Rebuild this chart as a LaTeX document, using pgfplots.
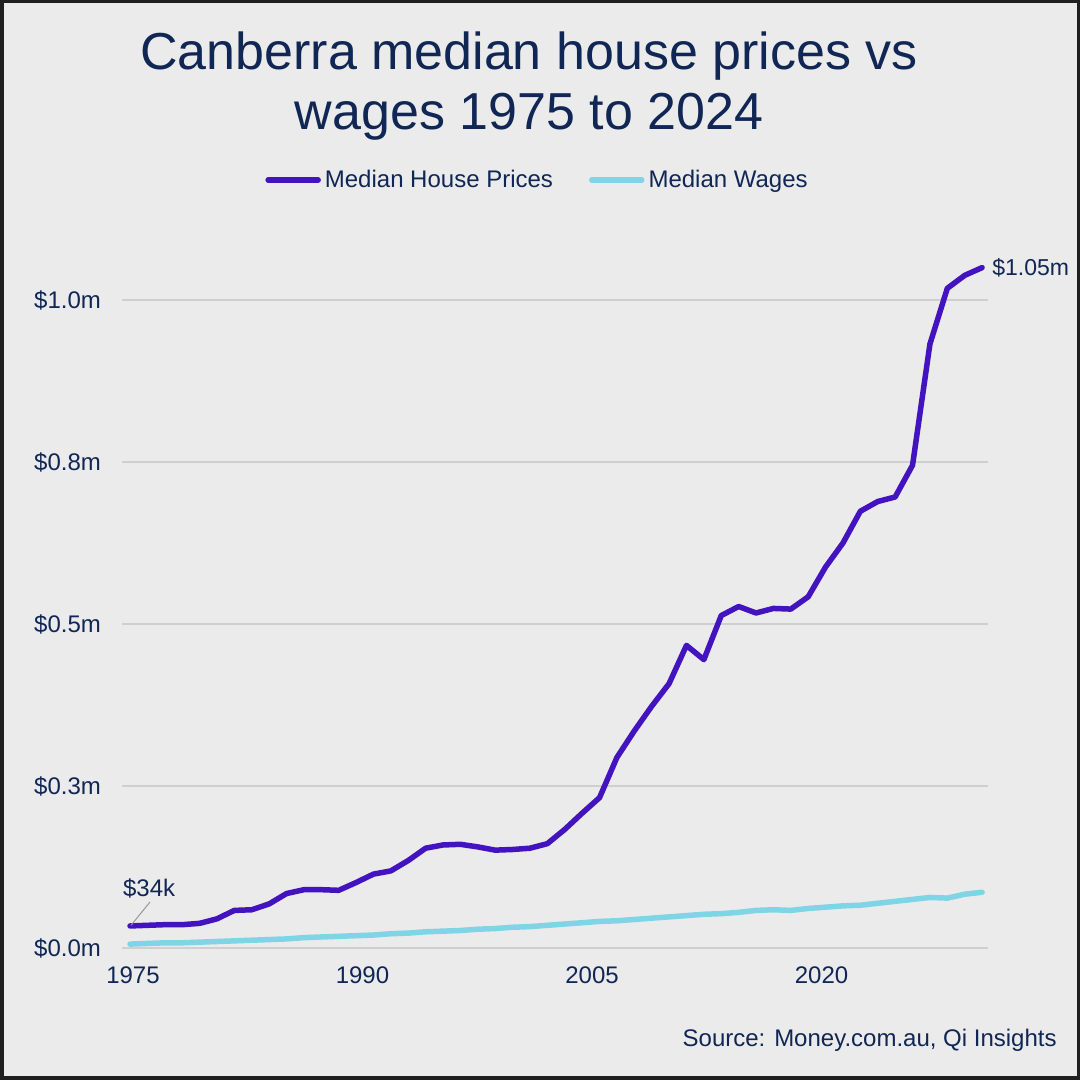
\documentclass[border=0pt]{standalone}
\usepackage{fontspec}
\setmainfont{Liberation Sans}
\usepackage{pgfplots}
\usepackage{pgfplotstable}
\pgfplotsset{compat=1.18}
\definecolor{bg}{HTML}{EBEBEB}
\definecolor{navy}{HTML}{102654}
\definecolor{purp}{HTML}{4213BE}
\definecolor{cyanl}{HTML}{7FD4E6}
\definecolor{gridc}{HTML}{CFCFCF}

\pgfplotstableread{
i price wage
0 0.034 0.006
1 0.035 0.007
2 0.036 0.008
3 0.036 0.008
4 0.038 0.009
5 0.045 0.010
6 0.058 0.011
7 0.059 0.012
8 0.068 0.013
9 0.084 0.014
10 0.090 0.016
11 0.090 0.017
12 0.089 0.018
13 0.101 0.019
14 0.114 0.020
15 0.119 0.022
16 0.135 0.023
17 0.154 0.025
18 0.159 0.026
19 0.160 0.027
20 0.156 0.029
21 0.151 0.030
22 0.152 0.032
23 0.154 0.033
24 0.161 0.035
25 0.183 0.037
26 0.208 0.039
27 0.232 0.041
28 0.294 0.042
29 0.335 0.044
30 0.373 0.046
31 0.408 0.048
32 0.467 0.050
33 0.445 0.052
34 0.513 0.053
35 0.527 0.055
36 0.517 0.058
37 0.524 0.059
38 0.523 0.058
39 0.542 0.061
40 0.588 0.063
41 0.625 0.065
42 0.674 0.066
43 0.689 0.069
44 0.696 0.072
45 0.745 0.075
46 0.932 0.078
47 1.018 0.077
48 1.038 0.083
49 1.050 0.086
}\data

\begin{document}
\begin{tikzpicture}
\fill[bg] (0pt,0pt) rectangle (540pt,540pt);
\useasboundingbox (0pt,0pt) rectangle (540pt,540pt);
\node[anchor=base, font=\fontsize{26}{30}\selectfont, text=navy] at (264.5pt,505pt) {Canberra median house prices vs};
\node[anchor=base, font=\fontsize{26}{30}\selectfont, text=navy] at (264.5pt,475pt) {wages 1975 to 2024};
\begin{axis}[
  at={(61pt,66pt)}, anchor=south west,
  scale only axis, width=433pt, height=356.4pt,
  xmin=-0.46, xmax=49.34, ymin=0, ymax=1.1,
  axis line style={draw=none},
  major tick length=0pt,
  ymajorgrids, grid style={gridc, line width=0.75pt},
  ytick={0,0.25,0.5,0.75,1},
  yticklabels={\$0.0m,\$0.3m,\$0.5m,\$0.8m,\$1.0m},
  xtick={0.17,13.37,26.57,39.77},
  xticklabels={1975,1990,2005,2020},
  ticklabel style={font=\fontsize{12}{14}\selectfont, text=navy},
  yticklabel style={xshift=-7pt},
  xticklabel style={yshift=-6pt},
  /pgf/number format/assume math mode=true,
  clip=false,
  legend columns=2,
  legend style={at={(0.481,1.0775)}, anchor=center, draw=none, fill=none,
    font=\fontsize{12}{14}\selectfont, text=navy,
    /tikz/every even column/.append style={column sep=16pt}},
  legend image code/.code={\draw[#1] (0pt,0pt) -- (25pt,0pt);},
]
\addplot[purp, line width=2.75pt, line join=round, line cap=round] table[x=i,y=price]{\data};
\addlegendentry{Median House Prices}
\addplot[cyanl, line width=2.75pt, line join=round, line cap=round] table[x=i,y=wage]{\data};
\addlegendentry{Median Wages}
\draw[gray!80, line width=0.5pt] (axis cs:0.06,0.035) -- (axis cs:1.15,0.071);
\node[font=\fontsize{12}{14}\selectfont, text=navy] at (axis cs:1.10,0.0926) {\$34k};
\node[anchor=west, inner sep=0pt, font=\fontsize{11.5}{14}\selectfont, text=navy] at (axis cs:49.57,1.049) {\$1.05m};
\end{axis}
\node[anchor=base east, inner sep=0pt, font=\fontsize{12}{14}\selectfont, text=navy] at (528.5pt,16.5pt) {Source: Money.com.au, Qi Insights};
\draw[black!88, line width=1.75pt] (0.875pt,0.875pt) rectangle (539.125pt,539.125pt);
\end{tikzpicture}
\end{document}
